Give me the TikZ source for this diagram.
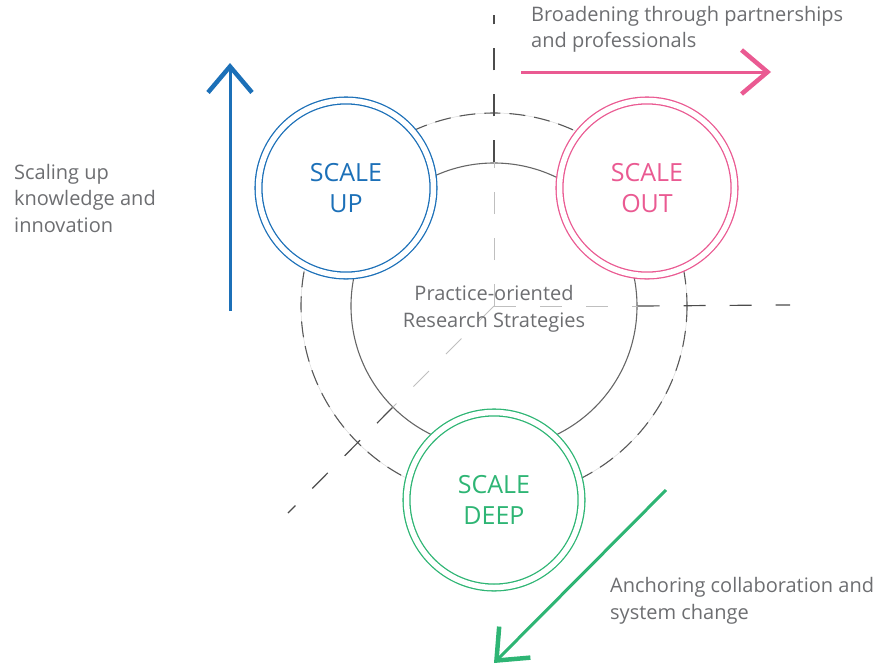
\documentclass[tikz,border=0pt]{standalone}
\usepackage{fontspec}
\setmainfont{Open Sans}
\usepackage{xcolor}
\usetikzlibrary{arrows.meta, positioning}

\definecolor{upblue}{HTML}{1C70B8}
\definecolor{outpink}{HTML}{EA5A92}
\definecolor{deepgreen}{HTML}{2EB574}
\definecolor{txtgray}{HTML}{6D6E71}

\tikzset{
  note/.style={text=txtgray, align=left, font=\fontsize{20}{26.5}\selectfont, inner sep=0pt},
  scalebox/.style={circle, minimum size=175pt, fill=white, line width=1.3pt, double=white, double distance=5.5pt, align=center, font=\fontsize{25}{31}\selectfont},
  axisdark/.style={draw=black!70, line width=1.2pt, dash pattern=on 22pt off 24pt},
  axislight/.style={draw=black!25, line width=1pt, dash pattern=on 22pt off 24pt},
  bigarrow/.style={line width=3pt, -{Straight Barb[length=26pt, width=44pt, line width=4.5pt]}}
}

\begin{document}
\begin{tikzpicture}[x=1pt, y=-1pt]
    \useasboundingbox (0,0) rectangle (892,670);

    % --- RINGS ---
    \node (ring) [circle, draw=black!15, line width=0.5pt, minimum size=386pt] at (494,306) {};
    \draw[black!65, line width=1.1pt, dash pattern=on 16pt off 9pt] (ring.center) circle[radius=193];
    \node (core) [circle, draw=black!60, line width=1.1pt, minimum size=286pt] at (494,306) {};

    % Axes
    \coordinate (vtop) at (494,15);
    \coordinate (hend) at (790,305);
    \coordinate (dend) at (288,513);
    \draw[axislight] (core.center) -- (core.north);
    \draw[axislight] (core.center) -- (core.east);
    \draw[axislight] (core.center) -- (core.south west);
    \draw[axisdark] (core.north) -- (vtop);
    \draw[axisdark] (core.east) -- (hend);
    \draw[axisdark] (core.south west) -- (dend);

    \node (coretext) [text=txtgray, align=center, font=\fontsize{20}{26.5}\selectfont] at (494,309) {Practice-oriented\\Research Strategies};

    % --- SCALE CIRCLES ---
    \node (up) [scalebox, draw=upblue, text=upblue] at (346,188) {SCALE\\UP};
    \node (out) [scalebox, draw=outpink, text=outpink] at (647,188) {SCALE\\OUT};
    \node (deep) [scalebox, draw=deepgreen, text=deepgreen] at (494,500) {SCALE\\DEEP};

    % Arrows
    \coordinate (upfoot) at (230,311);
    \coordinate (uptip) at (230,63);
    \coordinate (outfoot) at (521,72);
    \coordinate (outtip) at (771,72);
    \coordinate (deepfoot) at (666,490);
    \coordinate (deeptip) at (494,663);
    \draw[bigarrow, upblue] (upfoot) -- (uptip);
    \draw[bigarrow, outpink] (outfoot) -- (outtip);
    \draw[bigarrow, deepgreen] (deepfoot) -- (deeptip);

    % Labels
    \node (uplabel) [note, anchor=west] at (14,198) {Scaling up\\knowledge and\\innovation};
    \node (outlabel) [note, anchor=west] at (531,29.5) {Broadening through partnerships\\and professionals};
    \node (deeplabel) [note, anchor=west] at (610,601) {Anchoring collaboration and\\system change};

\end{tikzpicture}
\end{document}
